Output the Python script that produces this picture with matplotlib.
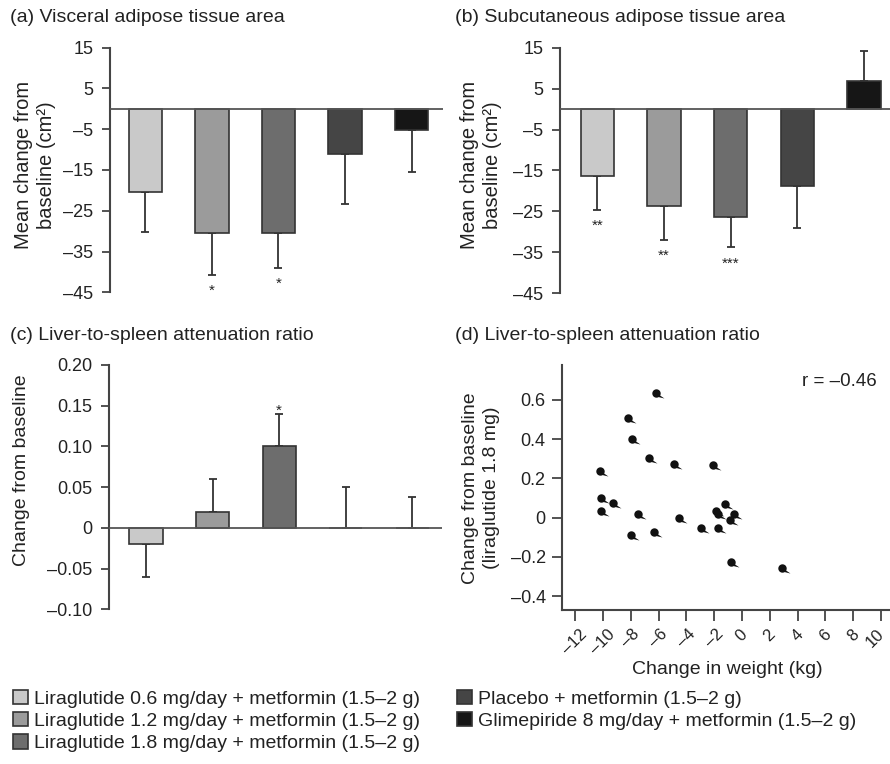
import numpy as np
import matplotlib.pyplot as plt
from matplotlib.patches import Patch
from matplotlib.path import Path
from matplotlib.transforms import ScaledTranslation

plt.rcParams['font.family'] = ['Liberation Sans', 'DejaVu Sans']
plt.rcParams['text.color'] = '#222222'

groups = ['Liraglutide 0.6 mg/day + metformin (1.5\u20132 g)',
          'Liraglutide 1.2 mg/day + metformin (1.5\u20132 g)',
          'Liraglutide 1.8 mg/day + metformin (1.5\u20132 g)',
          'Placebo + metformin (1.5\u20132 g)',
          'Glimepiride 8 mg/day + metformin (1.5\u20132 g)']
bar_colors = ['#c9c9c9', '#9b9b9b', '#6d6d6d', '#454545', '#161616']

# (a) visceral adipose tissue, cm2
vat_mean = [-20.3, -30.5, -30.5, -11.1, -5.1]
vat_err = [10.0, 10.2, 8.5, 12.2, 10.5]
vat_sig = ['', '*', '*', '', '']

# (b) subcutaneous adipose tissue, cm2
sat_mean = [-16.4, -23.6, -26.3, -18.8, 6.9]
sat_err = [8.3, 8.3, 7.5, 10.2, 7.4]
sat_sig = ['**', '**', '***', '', '']

area_ticks = [15, 5, -5, -15, -25, -35, -45]
area_labels = ['15', '5', '\u20135', '\u201315', '\u201325', '\u201335', '\u201345']

# (c) liver-to-spleen attenuation ratio
lsr_mean = [-0.02, 0.02, 0.10, 0.0, 0.0]
lsr_err = [0.04, 0.04, 0.04, 0.05, 0.038]
lsr_sig = ['', '', '*', '', '']
lsr_ticks = [0.20, 0.15, 0.10, 0.05, 0, -0.05, -0.10]
lsr_labels = ['0.20', '0.15', '0.10', '0.05', '0', '\u20130.05', '\u20130.10']

# (d) scatter, liraglutide 1.8 mg
weight_change = [-6.15, -8.2, -7.9, -6.7, -4.9, -2.1, -10.2, -10.15, -9.3, -10.15,
                 -7.5, -4.55, -7.95, -6.3, -2.95, -1.75, -0.8, 2.85,
                 -1.25, -1.9, -1.75, -0.55, -0.85]
ratio_change = [0.635, 0.505, 0.40, 0.305, 0.275, 0.27, 0.235, 0.10, 0.075, 0.035,
                0.02, 0.0, -0.09, -0.075, -0.055, -0.055, -0.225, -0.255,
                0.07, 0.035, 0.02, 0.02, -0.01]
wt_ticks = list(range(-12, 11, 2))
wt_labels = [str(t).replace('-', '\u2013') for t in wt_ticks]
sc_ticks = [0.6, 0.4, 0.2, 0, -0.2, -0.4]
sc_labels = ['0.6', '0.4', '0.2', '0', '\u20130.2', '\u20130.4']

W, H = 890, 764
fig = plt.figure(figsize=(W / 100, H / 100), dpi=100)


def px_axes(x0, y0, x1, y1):
    return fig.add_axes([x0 / W, 1 - y1 / H, (x1 - x0) / W, (y1 - y0) / H])


def bar_panel(ax, means, errs, sig, ticks, labels, xlim):
    x = np.arange(len(means))
    ax.bar(x, means, width=0.5, color=bar_colors, edgecolor='#333333', linewidth=1.2, zorder=2)
    lower = [e if m < 0 else 0 for m, e in zip(means, errs)]
    upper = [0 if m < 0 else e for m, e in zip(means, errs)]
    ax.errorbar(x, means, yerr=[lower, upper], fmt='none', ecolor='#333333',
                elinewidth=1.3, capsize=3, capthick=1.3, zorder=1)
    ax.axhline(0, color='#555555', lw=1.3, zorder=3)
    for i, s in enumerate(sig):
        if not s:
            continue
        if means[i] < 0:
            ax.annotate(s, (i, means[i] - errs[i]), xytext=(0, -11.5), textcoords='offset points',
                        ha='center', va='center', fontsize=11)
        else:
            ax.annotate(s, (i, means[i] + errs[i]), xytext=(0, 2.5), textcoords='offset points',
                        ha='center', va='center', fontsize=11)
    ax.set_xlim(*xlim)
    ax.set_ylim(ticks[-1], ticks[0])
    ax.set_xticks([])
    ax.set_yticks(ticks)
    ax.set_yticklabels(labels)
    for s in ['top', 'right', 'bottom']:
        ax.spines[s].set_visible(False)
    ax.spines['left'].set_color('#444444')
    ax.spines['left'].set_linewidth(1.5)
    ax.tick_params(axis='y', direction='out', length=6, width=1.3, color='#444444',
                   labelsize=13, labelcolor='#222222', pad=6)
    ax.patch.set_alpha(0)


ax_a = px_axes(110, 47.7, 443, 292.3)
bar_panel(ax_a, vat_mean, vat_err, vat_sig, area_ticks, area_labels, (-0.53, 4.47))
ax_b = px_axes(560, 47.7, 890, 293.3)
bar_panel(ax_b, sat_mean, sat_err, sat_sig, area_ticks, area_labels, (-0.56, 4.39))
ax_c = px_axes(109.3, 365, 441.7, 609.3)
bar_panel(ax_c, lsr_mean, lsr_err, lsr_sig, lsr_ticks, lsr_labels, (-0.55, 4.44))

# (d) scatter
ax_d = px_axes(562.3, 365, 890, 610)
tail = Path([(0.6, -0.3), (0.3, -0.8), (1.9, -1.2), (0.6, -0.3)],
            [Path.MOVETO, Path.LINETO, Path.LINETO, Path.CLOSEPOLY])
pin = Path.make_compound_path(Path.unit_circle(), tail)
ax_d.plot(weight_change, ratio_change, linestyle='none', marker=pin, ms=11.5,
          color='#111111', markeredgewidth=0)
ax_d.set_xlim(-12.92, 10.65)
ax_d.set_ylim(-0.47, 0.777)
ax_d.set_xticks(wt_ticks)
ax_d.set_xticklabels(wt_labels, rotation=45, ha='center', va='top')
ax_d.set_yticks(sc_ticks)
ax_d.set_yticklabels(sc_labels)
for s in ['top', 'right']:
    ax_d.spines[s].set_visible(False)
for s in ['left', 'bottom']:
    ax_d.spines[s].set_color('#444444')
    ax_d.spines[s].set_linewidth(1.5)
ax_d.tick_params(axis='y', direction='out', length=7.5, width=1.3, color='#444444',
                 labelsize=13, labelcolor='#222222', pad=4.5)
ax_d.tick_params(axis='x', direction='out', length=8, width=1.3, color='#444444',
                 labelsize=12, labelcolor='#222222', pad=4)
# nudge the last label so it stays inside the figure
last = ax_d.get_xticklabels()[-1]
last.set_transform(last.get_transform() + ScaledTranslation(-4 / 72, 0, fig.dpi_scale_trans))
ax_d.text(0.96, 0.932, 'r = \u20130.46', transform=ax_d.transAxes, ha='right', va='center',
          fontsize=13.5)
ax_d.patch.set_alpha(0)

# titles and axis labels
fig.text(10 / W, 1 - 18 / H, '(a) Visceral adipose tissue area', fontsize=14, va='center')
fig.text(455 / W, 1 - 18 / H, '(b) Subcutaneous adipose tissue area', fontsize=14, va='center')
fig.text(10 / W, 1 - 335 / H, '(c) Liver-to-spleen attenuation ratio', fontsize=14, va='center')
fig.text(455 / W, 1 - 335 / H, '(d) Liver-to-spleen attenuation ratio', fontsize=14, va='center')

fig.text(35 / W, 1 - 165 / H, 'Mean change from\nbaseline (cm\u00b2)', rotation=90, fontsize=14.5,
         ha='center', va='center', multialignment='center', linespacing=1.25)
fig.text(481 / W, 1 - 165 / H, 'Mean change from\nbaseline (cm\u00b2)', rotation=90, fontsize=14.5,
         ha='center', va='center', multialignment='center', linespacing=1.25)
fig.text(22 / W, 1 - 470 / H, 'Change from baseline', rotation=90, fontsize=14,
         ha='center', va='center')
fig.text(481 / W, 1 - 488 / H, 'Change from baseline\n(liraglutide 1.8 mg)', rotation=90,
         fontsize=14, ha='center', va='center', multialignment='center', linespacing=1.25)
fig.text(727.5 / W, 1 - 669 / H, 'Change in weight (kg)', fontsize=14, ha='center', va='center')

# legend
handles = [Patch(facecolor=c, edgecolor='#333333', linewidth=1.2, label=g)
           for c, g in zip(bar_colors, groups)]
leg_kw = dict(loc='upper left', frameon=False, borderpad=0, borderaxespad=0,
              handlelength=0.75, handleheight=0.75, handletextpad=0.35,
              labelspacing=0.22, fontsize=14)
fig.legend(handles=handles[:3], bbox_to_anchor=(13 / W, 1 - 690 / H), **leg_kw)
fig.legend(handles=handles[3:], bbox_to_anchor=(457 / W, 1 - 690 / H), **leg_kw)

fig.savefig('out.png', dpi=100)
